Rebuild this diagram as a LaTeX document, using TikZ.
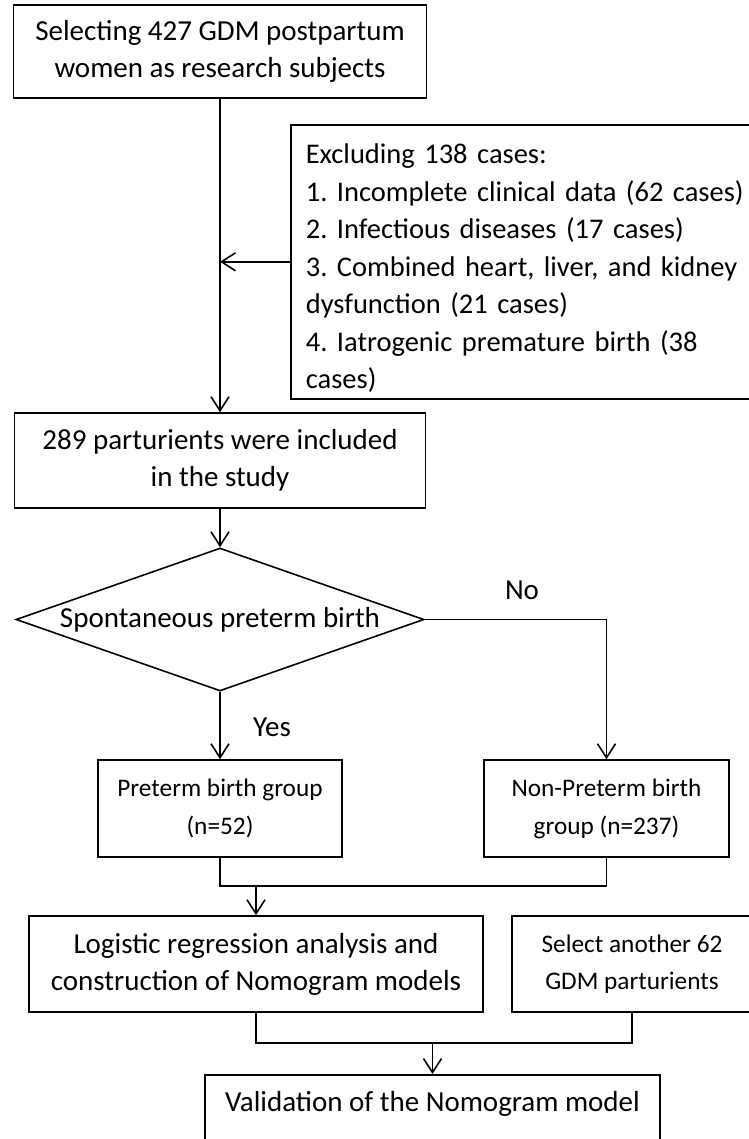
\documentclass[tikz,border=0pt]{standalone}
\usepackage{fontspec}
\setmainfont{Carlito}
\frenchspacing
\usetikzlibrary{shapes.geometric,arrows.meta}

\begin{document}
\begin{tikzpicture}[x=1pt, y=-1pt, line width=1.6pt,
  box/.style={draw, rectangle, align=center, inner sep=0pt, font=\fontsize{29}{37}\selectfont},
  smallbox/.style={box, font=\fontsize{25.3}{38}\selectfont},
  lbl/.style={font=\fontsize{29}{30}\selectfont, inner sep=0pt},
  arr/.style={-{Straight Barb[length=14pt,width=18pt]}}]

% Ukuran gambar
\useasboundingbox (0,0) rectangle (748,1139);

% Kotak awal dan kotak pengecualian
\node[box, minimum width=413pt, minimum height=93pt] (sel) at (220,51.5) {Selecting 427 GDM postpartum\\women as research subjects};
\node[box, anchor=north west, align=left, text width=450pt, inner xsep=15pt, minimum height=274pt, font=\fontsize{28.5}{37.5}\selectfont] (excl) at (290,124)
  {\rule{0pt}{33pt}Excluding 138 cases:\\1. Incomplete clinical data (62 cases)\\2. Infectious diseases (17 cases)\\3. Combined heart, liver, and kidney\\dysfunction (21 cases)\\\makebox[430pt][s]{4. Iatrogenic premature birth (38}\\cases)};

% Kotak peserta dan keputusan
\node[box, minimum width=411pt, minimum height=95pt] (inc) at (220,460.5) {289 parturients were included\\in the study};
\node[draw, diamond, shape aspect=2.85, minimum width=408pt, minimum height=143pt, inner sep=0pt, font=\fontsize{29}{37}\selectfont] (dec) at (220,619.5) {Spontaneous preterm birth};

% Dua kelompok
\node[smallbox, minimum width=244pt, minimum height=97pt] (pre) at (220,808.5) {Preterm birth group\\(n=52)};
\node[smallbox, minimum width=245pt, minimum height=97pt] (non) at (606.5,808.5) {Non-Preterm birth\\group (n=237)};

% Analisis dan validasi
\node[box, minimum width=454pt, minimum height=96pt] (log) at (256,964) {Logistic regression analysis and\\construction of Nomogram models};
\node[smallbox, minimum width=240pt, minimum height=96pt, font=\fontsize{25.3}{37}\selectfont] (sel2) at (632,964) {Select another 62\\GDM parturients};
\node[box, anchor=north, minimum width=455pt, text height=37pt, text depth=60pt] (val) at (432.5,1074) {Validation of the Nomogram model};

% Label ya dan tidak
\node[lbl] (yes) at (272,727) {Yes};
\node[lbl] (no) at (522,590) {No};

% Panah
\draw[arr] (sel.south) -- (inc.north);
\draw[arr] (excl.west) -- (excl.west -| sel.south);
\draw[arr] (inc.south) -- (dec.north);
\draw[arr] (dec.south) -- (pre.north);
\draw[arr] (dec.east) -| (non.north);

% Gabungan ke bawah
\draw (pre.south) -- ++(0,28) coordinate (m1) -| (non.south);
\draw[arr] (m1 -| log.north) -- (log.north);
\draw (log.south) -- ++(0,30) coordinate (m2) -| (sel2.south);
\draw[arr] (m2 -| val.north) -- (val.north);
\end{tikzpicture}
\end{document}
